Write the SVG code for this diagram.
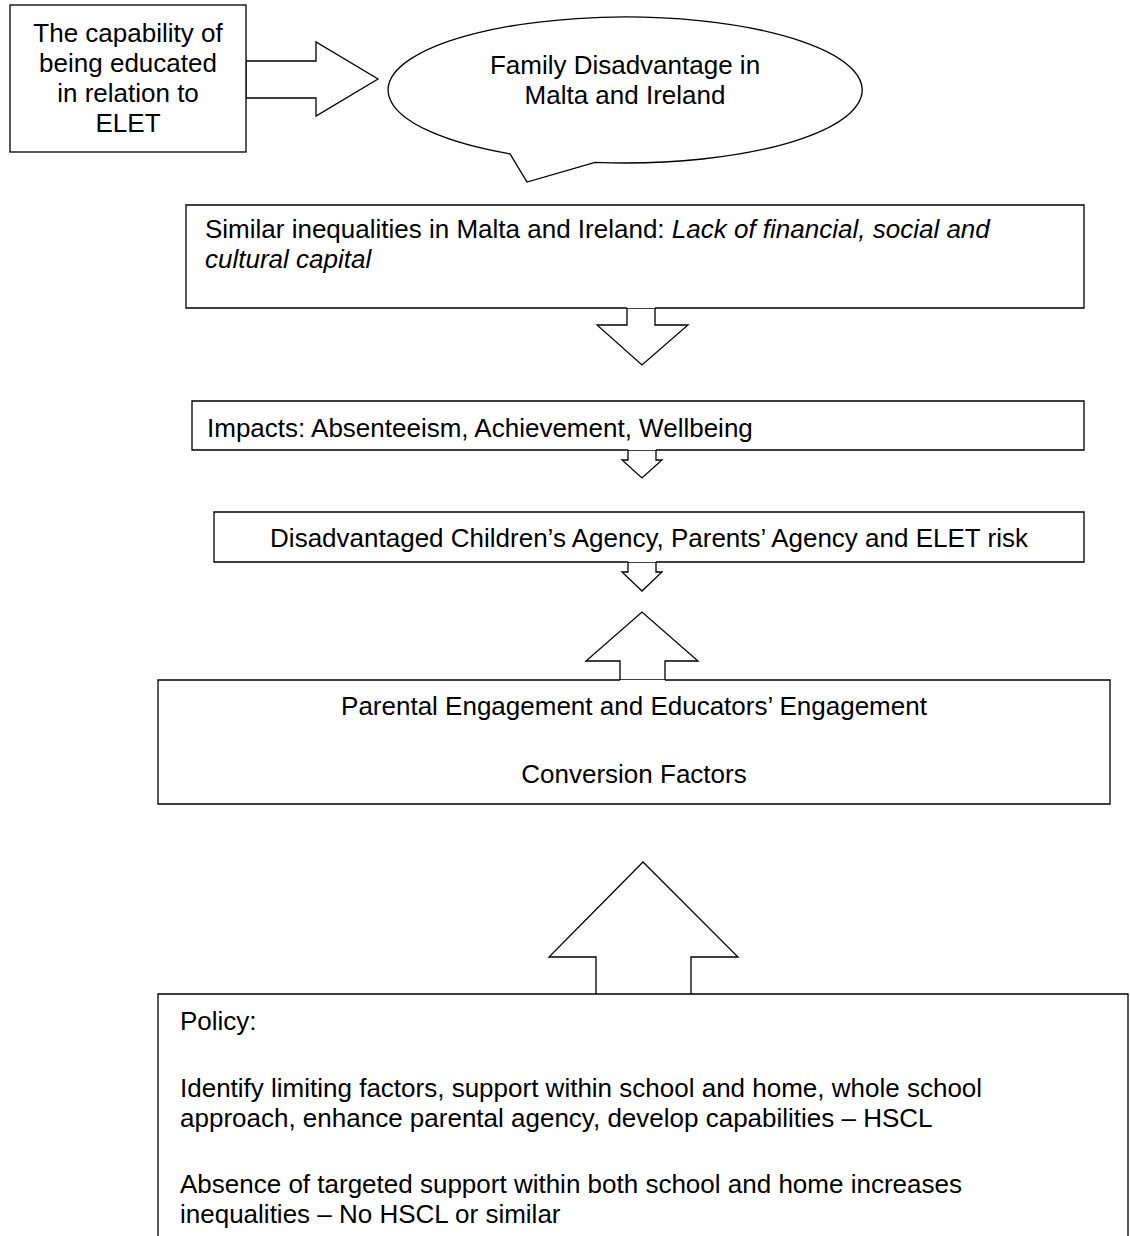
<svg xmlns="http://www.w3.org/2000/svg" width="1130" height="1236" viewBox="0 0 1130 1236">
<style>
.s{fill:#fff;stroke:#000;stroke-width:1.3}
.t{font-family:"Liberation Sans",Arial,sans-serif;font-size:26px;fill:#000}
.c{text-anchor:middle}
</style>
<rect width="1130" height="1236" fill="#fff"/>
<g id="connectors">
<polygon class="s" points="246,61 316,61 316,42 378,79 316,116 316,98 246,98"/>
<polygon class="s" points="627,308 627,325 597,325 642,365 688,325 655,325 655,308"/>
<polygon class="s" points="628,450 628,460 622,460 642,478 662,460 656,460 656,450"/>
<polygon class="s" points="628,562 628,572 622,572 642,591 662,572 656,572 656,562"/>
<polygon class="s" points="620,680 620,661 586,661 642,612 698,661 665,661 665,680"/>
<polygon class="s" points="596,994 596,957 549,957 643,862 738,957 691,957 691,994"/>
</g>
<g id="node-capability">
<rect class="s" x="10" y="5" width="236" height="147"/>
<text class="t c" x="128" y="42">The capability of</text>
<text class="t c" x="128" y="72">being educated</text>
<text class="t c" x="128" y="102">in relation to</text>
<text class="t c" x="128" y="132">ELET</text>
</g>
<g id="node-family">
<path class="s" d="M510,153.8 L527,182 L595,162.4 A237,73 0 1 0 510,153.8 Z"/>
<text class="t c" x="625" y="74">Family Disadvantage in</text>
<text class="t c" x="625" y="104">Malta and Ireland</text>
</g>
<g id="node-inequalities">
<polyline class="s" points="627,308 186,308 186,205 1084,205 1084,308 655,308"/>
<text class="t" x="205" y="238">Similar inequalities in Malta and Ireland: <tspan font-style="italic">Lack of financial, social and</tspan></text>
<text class="t" x="205" y="268" font-style="italic">cultural capital</text>
</g>
<g id="node-impacts">
<polyline class="s" points="628,450 192,450 192,401 1084,401 1084,450 656,450"/>
<text class="t" x="207" y="437">Impacts: Absenteeism, Achievement, Wellbeing</text>
</g>
<g id="node-agency">
<polyline class="s" points="628,562 214,562 214,512 1084,512 1084,562 656,562"/>
<text class="t c" x="649" y="547">Disadvantaged Children’s Agency, Parents’ Agency and ELET risk</text>
</g>
<g id="node-engagement">
<polyline class="s" points="620,680 158,680 158,804 1110,804 1110,680 665,680"/>
<text class="t c" x="634" y="715">Parental Engagement and Educators’ Engagement</text>
<text class="t c" x="634" y="783">Conversion Factors</text>
</g>
<g id="node-policy">
<polyline class="s" points="158,1236 158,994 596,994"/>
<polyline class="s" points="691,994 1128,994 1128,1236"/>
<text class="t" x="180" y="1030">Policy:</text>
<text class="t" x="180" y="1097">Identify limiting factors, support within school and home, whole school</text>
<text class="t" x="180" y="1127">approach, enhance parental agency, develop capabilities – HSCL</text>
<text class="t" x="180" y="1193">Absence of targeted support within both school and home increases</text>
<text class="t" x="180" y="1223">inequalities – No HSCL or similar</text>
</g>
</svg>
